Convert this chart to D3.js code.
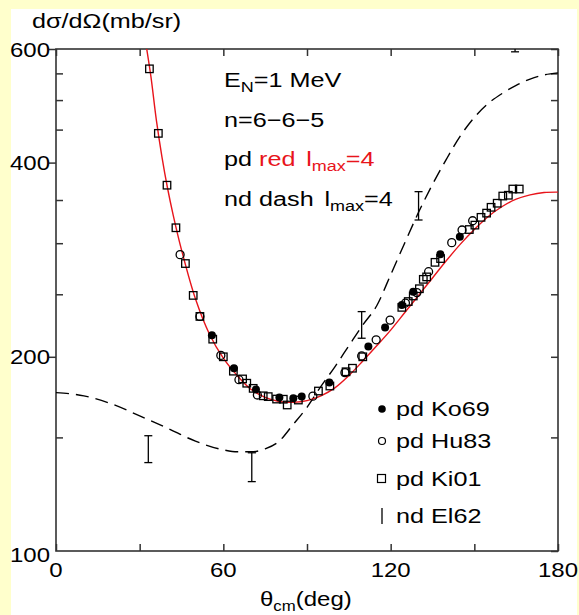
<!DOCTYPE html>
<html><head><meta charset="utf-8">
<script src="https://cdn.jsdelivr.net/npm/d3@7"></script>
<style>body{margin:0;background:#ffffcc;} svg{display:block}</style>
</head><body><svg id="c" width="579" height="615"></svg>
<script>
// ---- data ----
const redX = [32, 34, 36, 38, 40, 42, 45, 50, 55, 60, 65, 70, 75, 80, 85, 90, 95, 100, 105, 110, 115, 120, 125, 130, 135, 140, 145, 150, 155, 160, 165, 170, 175, 180];
const redY = [620, 545, 465, 408, 365, 332, 293, 246, 217, 199, 187, 178, 173, 170.5, 170, 171, 174, 179, 187, 197, 208, 220, 234, 249, 265, 282, 299, 315, 330, 342, 351, 356.5, 359.5, 360];
const dashX = [0, 10, 20, 30, 40, 50, 60, 65, 70, 75, 80, 85, 90, 95, 100, 105, 110, 115, 120, 125, 130, 135, 140, 145, 150, 155, 160, 165, 170, 175, 180];
const dashY = [176, 174, 169, 162, 155, 148, 143.5, 142.5, 142.5, 144, 148, 157, 167, 180, 193, 208, 224, 240, 268, 300, 335, 370, 405, 440, 470, 494, 512, 527, 539, 547, 551];
const ko69X = [55.9, 63.8, 71.7, 80.1, 85.1, 88.1, 98.0, 112.0, 118.0, 124.0, 128.1, 137.8, 144.8];
const ko69Y = [216, 192, 178, 173, 172.5, 173.5, 182.4, 207.4, 222, 240.6, 252.3, 288.5, 307];
const hu83X = [44.5, 51.6, 59.1, 65.6, 72.2, 92.1, 103.6, 109.6, 114.8, 119.8, 125.3, 129.4, 133.6, 141.9, 145.6, 149.4];
const hu83Y = [288, 231, 201, 184.3, 174.5, 173.8, 189, 200.6, 212.5, 228, 242.3, 251.5, 271, 300.6, 314.5, 325];
const ki01X = [33.5, 36.7, 39.8, 43.0, 46.4, 49.2, 51.6, 56.2, 60.0, 63.6, 66.9, 68.4, 70.7, 74.3, 76.1, 79.1, 81.5, 82.9, 86.9, 94.1, 98.2, 104.0, 106.3, 110.0, 124.0, 126.3, 128.1, 130.3, 131.7, 132.9, 135.9, 137.9, 148.2, 150.2, 152.4, 154.4, 156.0, 158.2, 160.2, 162.2, 163.8, 166.1];
const ki01Y = [559, 444, 369, 317, 279, 249, 231, 213, 200, 190, 184.8, 182, 178.7, 174, 173.5, 172, 171.9, 168.4, 171.4, 177, 180.2, 189.6, 192, 200, 238.6, 243.6, 248.5, 255, 263.7, 266, 280.2, 284, 315, 320, 329, 334, 341, 346, 355, 356, 364, 364];
const el62X = [33.1, 70.2, 109.6, 130.0, 164.6];
const el62Lo = [137.1, 128.1, 213.7, 325.9, 594];
const el62Hi = [150.9, 142.0, 235.0, 360.6, 680];
const xMajor = [0, 60, 120, 180];
const xMinor = [30, 90, 150];
const yMajor = [100, 200, 400, 600];
const yMinor = [150, 250, 300, 350, 450, 500, 550];
const legendLabels = ["pd Ko69", "pd Hu83", "pd Ki01", "nd El62"];

// ---- layout ----
const svg = d3.select("#c");
const L = 56, R = 558, T = 49, B = 551;
const SX = 1.2; // horizontal text stretch
const FONT = "'Liberation Sans', Arial, Helvetica, sans-serif";
const RED = "#e8141b";

svg.append("rect").attr("x", 11).attr("y", 9).attr("width", 566).attr("height", 606).attr("fill", "#ffffff");

const x = d3.scaleLinear().domain([0, 180]).range([L, R]);
const y = d3.scaleLog().domain([100, 600]).range([B, T]);

svg.append("defs").append("clipPath").attr("id", "clip")
  .append("rect").attr("x", L).attr("y", T).attr("width", R - L).attr("height", B - T);

function txt(px, py, anchor, size, color) {
  const g = svg.append("g").attr("transform", `translate(${px},${py}) scale(${SX},1)`);
  return g.append("text").attr("text-anchor", anchor).attr("font-family", FONT)
    .attr("font-size", size).attr("fill", color || "#000");
}

// ---- axes ----
const axCol = "#333";
const tl = 7;
const gB = svg.append("g").attr("transform", `translate(0,${B})`)
  .call(d3.axisBottom(x).tickValues(xMajor.concat(xMinor)).tickSize(-tl).tickFormat(""));
const gT = svg.append("g").attr("transform", `translate(0,${T})`)
  .call(d3.axisTop(x).tickValues(xMajor.concat(xMinor)).tickSize(-tl).tickFormat(""));
const gL1 = svg.append("g").attr("transform", `translate(${L},0)`)
  .call(d3.axisLeft(y).tickValues(yMajor.slice(1)).tickSize(tl).tickFormat(""));
const gL2 = svg.append("g").attr("transform", `translate(${L},0)`)
  .call(d3.axisLeft(y).tickValues(yMinor).tickSize(-tl).tickFormat(""));
const gR = svg.append("g").attr("transform", `translate(${R},0)`)
  .call(d3.axisRight(y).tickValues(yMajor.concat(yMinor)).tickSize(-tl).tickFormat(""));
[gB, gT, gL1, gL2, gR].forEach(g => {
  g.select(".domain").remove();
  g.selectAll(".tick line").attr("stroke", axCol).attr("stroke-width", 1.5);
});
svg.append("rect").attr("x", L).attr("y", T).attr("width", R - L).attr("height", B - T)
  .attr("fill", "none").attr("stroke", axCol).attr("stroke-width", 1.6);

// tick labels
xMajor.forEach(v => txt(x(v), 577, "middle", 20).text(v));
yMajor.forEach(v => txt(50, y(v) + 7.5 + (v === 100 ? 3 : 0), "end", 20).text(v));

// axis titles
txt(32, 28, "start", 21).text("dσ/dΩ(mb/sr)");
{
  const t = txt(260, 606, "start", 20);
  t.append("tspan").text("θ");
  t.append("tspan").attr("font-size", 14).attr("dy", 5).text("cm");
  t.append("tspan").attr("dy", -5).text("(deg)");
}

// ---- curves ----
const plot = svg.append("g").attr("clip-path", "url(#clip)");
const line = d3.line().x(d => x(d[0])).y(d => y(d[1])).curve(d3.curveMonotoneX);
plot.append("path").datum(dashX.map((v, i) => [v, dashY[i]])).attr("d", line)
  .attr("fill", "none").attr("stroke", "#000").attr("stroke-width", 1.4).attr("stroke-dasharray", "13,7");
plot.append("path").datum(redX.map((v, i) => [v, redY[i]]))
  .attr("d", d3.line().x(d => x(d[0])).y(d => y(d[1])).curve(d3.curveCatmullRom))
  .attr("fill", "none").attr("stroke", RED).attr("stroke-width", 1.4);

// ---- points ----
const sq = 7.5, cr = 4;
plot.selectAll("rect.ki").data(ki01X.map((v, i) => [v, ki01Y[i]])).enter().append("rect")
  .attr("x", d => x(d[0]) - sq / 2).attr("y", d => y(d[1]) - sq / 2).attr("width", sq).attr("height", sq)
  .attr("fill", "none").attr("stroke", "#000").attr("stroke-width", 1.3);
plot.selectAll("circle.hu").data(hu83X.map((v, i) => [v, hu83Y[i]])).enter().append("circle")
  .attr("cx", d => x(d[0])).attr("cy", d => y(d[1])).attr("r", cr)
  .attr("fill", "none").attr("stroke", "#000").attr("stroke-width", 1.3);
plot.selectAll("circle.ko").data(ko69X.map((v, i) => [v, ko69Y[i]])).enter().append("circle")
  .attr("cx", d => x(d[0])).attr("cy", d => y(d[1])).attr("r", cr).attr("fill", "#000");
const eb = plot.selectAll("g.eb").data(el62X.map((v, i) => [v, el62Lo[i], el62Hi[i]])).enter().append("g");
eb.append("line").attr("x1", d => x(d[0])).attr("x2", d => x(d[0])).attr("y1", d => y(d[1])).attr("y2", d => y(d[2]));
eb.append("line").attr("x1", d => x(d[0]) - 4).attr("x2", d => x(d[0]) + 4).attr("y1", d => y(d[1])).attr("y2", d => y(d[1]));
eb.append("line").attr("x1", d => x(d[0]) - 4).attr("x2", d => x(d[0]) + 4).attr("y1", d => y(d[2])).attr("y2", d => y(d[2]));
eb.selectAll("line").attr("stroke", "#000").attr("stroke-width", 1.3);

// ---- annotations ----
{
  const t = txt(224, 87, "start", 21);
  t.append("tspan").text("E");
  t.append("tspan").attr("font-size", 15).attr("dy", 5).text("N");
  t.append("tspan").attr("dy", -5).text("=1 MeV");
}
txt(224, 127, "start", 21).text("n=6−6−5");
{
  const t = txt(224, 166, "start", 21);
  t.append("tspan").text("pd ");
  t.append("tspan").attr("fill", RED).text("red");
  t.append("tspan").attr("fill", RED).attr("dx", 9).text("l");
  t.append("tspan").attr("fill", RED).attr("font-size", 15).attr("dy", 5).text("max");
  t.append("tspan").attr("fill", RED).attr("dy", -5).text("=4");
}
{
  const t = txt(224, 206, "start", 21);
  t.append("tspan").text("nd dash");
  t.append("tspan").attr("dx", 9).text("l");
  t.append("tspan").attr("font-size", 15).attr("dy", 5).text("max");
  t.append("tspan").attr("dy", -5).text("=4");
}

// ---- legend ----
const legY = [409, 441, 479, 516];
const lx = 382;
svg.append("circle").attr("cx", lx).attr("cy", legY[0]).attr("r", 3.8).attr("fill", "#000");
svg.append("circle").attr("cx", lx).attr("cy", legY[1]).attr("r", 3.5).attr("fill", "none").attr("stroke", "#000").attr("stroke-width", 1.2);
svg.append("rect").attr("x", lx - 4.5).attr("y", legY[2] - 4.5).attr("width", 8).attr("height", 8).attr("fill", "none").attr("stroke", "#000").attr("stroke-width", 1.2);
svg.append("line").attr("x1", lx).attr("x2", lx).attr("y1", legY[3] - 8).attr("y2", legY[3] + 8).attr("stroke", "#000").attr("stroke-width", 1.3);
legendLabels.forEach((s, i) => txt(396, legY[i] + 6.5, "start", 21).text(s));
</script></body></html>
